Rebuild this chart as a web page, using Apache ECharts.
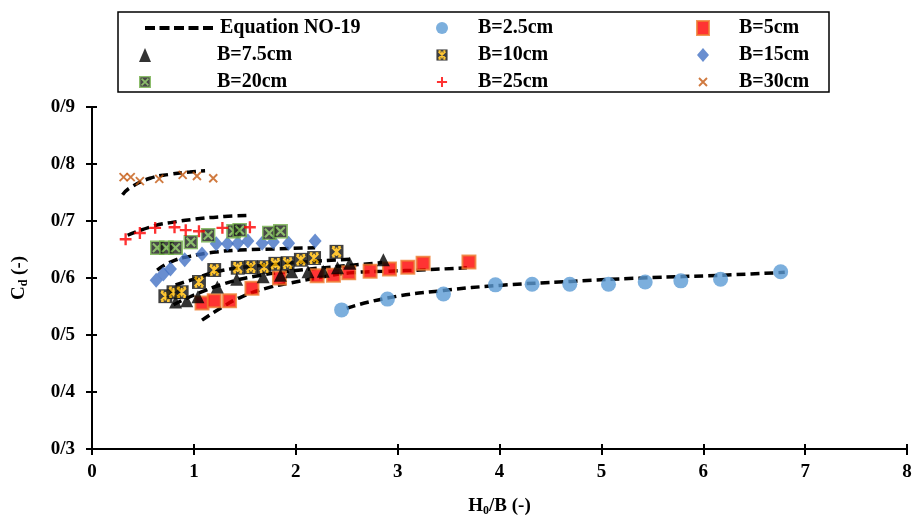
<!DOCTYPE html>
<html>
<head>
<meta charset="utf-8">
<script src="https://cdn.jsdelivr.net/npm/echarts@6/dist/echarts.min.js"></script>
<style>
  html, body { margin: 0; padding: 0; background: #fff; }
  #chart { width: 914px; height: 517px; }
</style>
</head>
<body>
<div id="chart"></div>
<script>
// Measured discharge coefficients, [H0/B, Cd] per weir width
const ptsB2_5 = [[2.45,0.544],[2.90,0.563],[3.45,0.572],[3.96,0.588],[4.32,0.589],[4.69,0.589],[5.07,0.589],[5.43,0.593],[5.78,0.595],[6.17,0.598],[6.76,0.611]];
const ptsB5 = [[1.08,0.556],[1.20,0.560],[1.35,0.560],[1.57,0.582],[1.84,0.600],[2.21,0.604],[2.37,0.605],[2.52,0.609],[2.73,0.612],[2.92,0.616],[3.10,0.619],[3.25,0.626],[3.70,0.628]];
const ptsB7_5 = [[0.82,0.558],[0.93,0.560],[1.04,0.567],[1.23,0.584],[1.42,0.598],[1.68,0.602],[1.85,0.605],[1.96,0.611],[2.12,0.611],[2.27,0.612],[2.41,0.618],[2.53,0.626],[2.86,0.632]];
const ptsB10 = [[0.72,0.568],[0.80,0.575],[0.88,0.575],[1.05,0.593],[1.20,0.614],[1.43,0.618],[1.56,0.619],[1.69,0.619],[1.80,0.625],[1.92,0.626],[2.05,0.632],[2.18,0.635],[2.40,0.646]];
const ptsB15 = [[0.63,0.596],[0.70,0.607],[0.77,0.616],[0.91,0.632],[1.08,0.642],[1.22,0.660],[1.33,0.660],[1.43,0.661],[1.53,0.665],[1.67,0.661],[1.78,0.663],[1.93,0.661],[2.19,0.665]];
const ptsB20 = [[0.64,0.653],[0.73,0.653],[0.82,0.653],[0.97,0.663],[1.14,0.675],[1.39,0.682],[1.45,0.684],[1.74,0.679],[1.85,0.682]];
const ptsB25 = [[0.33,0.668],[0.47,0.679],[0.62,0.688],[0.81,0.689],[0.92,0.684],[1.05,0.682],[1.28,0.688],[1.55,0.689]];
const ptsB30 = [[0.31,0.777],[0.38,0.777],[0.47,0.770],[0.66,0.774],[0.89,0.781],[1.03,0.779],[1.19,0.775]];

// Equation NO-19 curves, one per width
const eqB30 = [[0.30,0.746],[0.37,0.758],[0.57,0.775],[0.77,0.782],[0.96,0.786],[1.11,0.788]];
const eqB25 = [[0.35,0.675],[0.60,0.691],[0.80,0.698],[1.00,0.703],[1.30,0.708],[1.55,0.710]];
const eqB15 = [[0.64,0.614],[0.77,0.628],[0.96,0.638],[1.19,0.645],[1.45,0.649],[1.78,0.651],[2.19,0.653]];
const eqB10 = [[0.82,0.588],[1.00,0.598],[1.20,0.610],[1.45,0.618],[1.80,0.624],[2.15,0.629],[2.55,0.633]];
const eqB7_5 = [[0.80,0.553],[1.00,0.570],[1.30,0.590],[1.60,0.603],[2.00,0.613],[2.40,0.620],[2.85,0.627]];
const eqB5 = [[1.08,0.526],[1.28,0.549],[1.47,0.567],[1.75,0.584],[1.94,0.591],[2.27,0.602],[2.53,0.609],[2.92,0.612],[3.22,0.614],[3.68,0.618]];
const eqB2_5 = [[2.50,0.547],[2.90,0.565],[3.45,0.578],[4.00,0.587],[4.70,0.594],[5.40,0.600],[6.20,0.605],[6.80,0.610]];

// Axis ticks
const xMin = 0, xMax = 8, xStep = 1;
const yMin = 0.3, yMax = 0.9, yStep = 0.1;

const EQ = 'Equation NO-19';
const FONT = '"Liberation Serif", "Times New Roman", serif';

function svgSymbol(svg) {
  return 'image://data:image/svg+xml;charset=utf-8,' + encodeURIComponent(svg);
}
const symB10 = svgSymbol("<svg xmlns='http://www.w3.org/2000/svg' width='28' height='28' viewBox='0 0 14 14'><rect x='0.5' y='0.5' width='13' height='13' fill='#111'/><path d='M3 3 L11 11 M11 3 L3 11 M7 3 L7 11 M3 2.5 L5.5 2.5 M8.5 2.5 L11 2.5 M3 11.5 L5.5 11.5 M8.5 11.5 L11 11.5' stroke='#FFB800' stroke-width='1.9' fill='none'/></svg>");
const symB20 = svgSymbol("<svg xmlns='http://www.w3.org/2000/svg' width='28' height='28' viewBox='0 0 14 14'><rect x='0.8' y='0.8' width='12.4' height='12.4' fill='#1b1b1b' stroke='#70AD47' stroke-width='1.6'/><path d='M3 3 L11 11 M11 3 L3 11' stroke='#70AD47' stroke-width='2' fill='none'/></svg>");
const symPlus = svgSymbol("<svg xmlns='http://www.w3.org/2000/svg' width='26' height='26' viewBox='0 0 13 13'><path d='M6.5 1 L6.5 12 M1 6.5 L12 6.5' stroke='#FF0000' stroke-width='2.2' fill='none'/></svg>");
const symCross = svgSymbol("<svg xmlns='http://www.w3.org/2000/svg' width='24' height='24' viewBox='0 0 12 12'><path d='M2 2 L10 10 M10 2 L2 10' stroke='#C55A11' stroke-width='1.9' fill='none'/></svg>");
// Dashed-line legend key: five short bars
const dashIcon = 'path://M0 0h10v4h-10z M14.5 0h10v4h-10z M29 0h10v4h-10z M43.5 0h10v4h-10z M58 0h10v4h-10z';

function eqSeries(data) {
  return {
    name: EQ, type: 'line', data: data, smooth: true, symbol: 'none', z: 1,
    itemStyle: { color: '#000' },
    lineStyle: { color: '#000', width: 3.5, type: [9, 5] }
  };
}
function scatter(name, data, symbol, size, itemStyle) {
  return { name: name, type: 'scatter', data: data, symbol: symbol, symbolSize: size, itemStyle: itemStyle, z: 3 };
}

const legendText = { fontFamily: FONT, fontWeight: 'bold', fontSize: 20, color: '#000', lineHeight: 20 };

const option = {
  animation: false,
  backgroundColor: '#fff',
  grid: { left: 92, right: 7, top: 107, bottom: 68, containLabel: false, outerBoundsMode: 'none' },
  graphic: [{
    type: 'rect', shape: { x: 118, y: 12, width: 711, height: 80 },
    style: { fill: 'none', stroke: '#000', lineWidth: 1.5 }, z: 0
  }],
  legend: [
    { data: [{ name: EQ, icon: dashIcon }], left: 140, top: 13, itemWidth: 68, itemHeight: 4,
      itemStyle: { color: '#000' },
      textStyle: Object.assign({ padding: [0, 0, 0, 2] }, legendText) },
    { data: ['B=7.5cm', 'B=20cm'], orient: 'vertical', left: 134, top: 40, itemWidth: 12, itemHeight: 14, itemGap: 7,
      textStyle: Object.assign({ padding: [0, 0, 0, 61] }, legendText) },
    { data: ['B=2.5cm', 'B=10cm', 'B=25cm'], orient: 'vertical', left: 431, top: 13, itemWidth: 12, itemHeight: 14, itemGap: 7,
      textStyle: Object.assign({ padding: [0, 0, 0, 25] }, legendText) },
    { data: ['B=5cm', 'B=15cm', 'B=30cm'], orient: 'vertical', left: 691, top: 13, itemWidth: 12, itemHeight: 14, itemGap: 7,
      textStyle: Object.assign({ padding: [0, 0, 0, 25] }, legendText) }
  ],
  xAxis: [{
    type: 'value', min: xMin, max: xMax, interval: xStep,
    splitLine: { show: false },
    axisLine: { lineStyle: { color: '#000', width: 2 } },
    axisTick: { show: true, length: 6, lineStyle: { color: '#000', width: 2 } },
    axisLabel: { fontFamily: FONT, fontWeight: 'bold', fontSize: 19, color: '#000', margin: 14 },
    name: '{a|H}{s|0}{a|/B (-)}', nameLocation: 'middle', nameGap: 47,
    nameTextStyle: { rich: {
      a: { fontFamily: FONT, fontWeight: 'bold', fontSize: 19, color: '#000' },
      s: { fontFamily: FONT, fontWeight: 'bold', fontSize: 12, color: '#000', padding: [9, 0, 0, 0] }
    } }
  }, {
    type: 'value', min: xMin, max: xMax, interval: xStep, position: 'bottom',
    splitLine: { show: false }, axisLine: { show: false }, axisLabel: { show: false },
    axisTick: { show: true, inside: true, length: 5, lineStyle: { color: '#000', width: 2 } }
  }],
  yAxis: [{
    type: 'value', min: yMin, max: yMax, interval: yStep,
    splitLine: { show: false },
    axisLine: { show: true, lineStyle: { color: '#000', width: 2 } },
    axisTick: { show: true, length: 6, lineStyle: { color: '#000', width: 2 } },
    axisLabel: { fontFamily: FONT, fontWeight: 'bold', fontSize: 19, color: '#000', margin: 17,
      formatter: v => v.toFixed(1).replace('.', '/') },
    name: '{a|C}{s|d}{a| (-)}', nameLocation: 'middle', nameGap: 62, nameRotate: 90,
    nameTextStyle: { rich: {
      a: { fontFamily: FONT, fontWeight: 'bold', fontSize: 19, color: '#000' },
      s: { fontFamily: FONT, fontWeight: 'bold', fontSize: 12, color: '#000', padding: [9, 0, 0, 0] }
    } }
  }, {
    type: 'value', min: yMin, max: yMax, interval: yStep, position: 'left',
    splitLine: { show: false }, axisLine: { show: false }, axisLabel: { show: false },
    axisTick: { show: true, inside: true, length: 5, lineStyle: { color: '#000', width: 2 } }
  }],
  series: [
    eqSeries(eqB30), eqSeries(eqB25), eqSeries(eqB15), eqSeries(eqB10),
    eqSeries(eqB7_5), eqSeries(eqB5), eqSeries(eqB2_5),
    scatter('B=2.5cm', ptsB2_5, 'circle', 15, { color: '#5B9BD5' }),
    scatter('B=5cm', ptsB5, 'rect', 13, { color: '#FF0000', borderColor: '#ED7D31', borderWidth: 2 }),
    scatter('B=7.5cm', ptsB7_5, 'triangle', 13, { color: '#000' }),
    scatter('B=10cm', ptsB10, symB10, 15, {}),
    scatter('B=15cm', ptsB15, 'diamond', [13, 15], { color: '#4472C4' }),
    scatter('B=20cm', ptsB20, symB20, 15, {}),
    scatter('B=25cm', ptsB25, symPlus, 14, {}),
    scatter('B=30cm', ptsB30, symCross, 12, {})
  ]
};

const chart = echarts.init(document.getElementById('chart'), null, { renderer: 'canvas' });
chart.setOption(option);
</script>
</body>
</html>
